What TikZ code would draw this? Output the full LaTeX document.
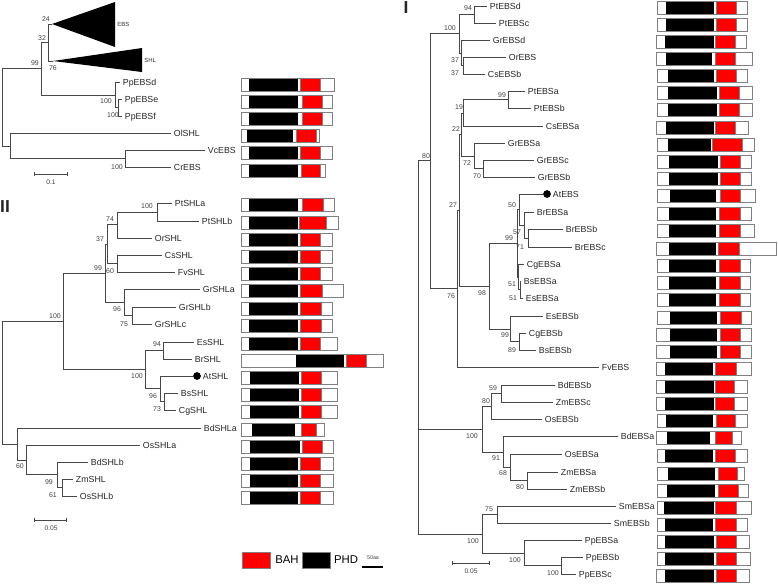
\documentclass[tikz,border=0pt]{standalone}
\usepackage{fontspec}
\setmainfont{Liberation Sans}
\usetikzlibrary{arrows.meta,positioning}
\definecolor{BAHred}{RGB}{255,0,0}
\definecolor{PHDblack}{RGB}{0,0,0}
\colorlet{BranchGray}{black!72}
\colorlet{BoxGray}{black!50}

% domain bar: y, left, PHD from, PHD to, BAH from, BAH to, right
\newcommand{\dombar}[7]{%
  \fill[white] (#2,{#1-6.5}) rectangle (#7,{#1+6.5});
  \fill[PHDblack] (#3,{#1-6.5}) rectangle (#4,{#1+6.5});
  \filldraw[fill=BAHred,draw=BoxGray,line width=0.4pt] (#5,{#1-6.5}) rectangle (#6,{#1+6.5});
  \draw[BoxGray,line width=0.6pt] (#2,{#1-6.5}) rectangle (#7,{#1+6.5});}

\begin{document}
\begin{tikzpicture}[x=0.75pt,y=-0.75pt,
    branch/.style={draw=BranchGray,line width=0.6pt},
    leaf/.style={anchor=west,inner sep=2pt,text depth=0pt,font=\fontsize{6.6}{7}\selectfont,text=black!85},
    boot/.style={inner sep=0pt,font=\fontsize{5.2}{6}\selectfont,text=black!75},
    trilab/.style={anchor=west,inner sep=0pt,font=\fontsize{4.5}{5}\selectfont,text=black!80},
    atdot/.style={circle,fill=black,inner sep=0pt,minimum size=5.8pt},
    scalebar/.style={draw=BranchGray,line width=0.6pt,{Bar[width=3pt]}-{Bar[width=3pt]}},
    scalelab/.style={inner sep=0pt,font=\fontsize{5}{6}\selectfont,text=black!75},
    part/.style={inner sep=0pt,font=\fontsize{13}{15}\selectfont\bfseries,text=black!85},
    legkey/.style={draw=BoxGray,line width=0.6pt,minimum width=21pt,minimum height=12pt,inner sep=0pt},
    legtxt/.style={inner sep=0pt,font=\fontsize{8.5}{10}\selectfont}
  ]
  \useasboundingbox (0,0) rectangle (778,586);

  %% overview tree (collapsed)
  \coordinate (cEBS) at (52,24);
  \coordinate (cSHL) at (53,61);
  \fill[black] (cEBS) -- (115,2) -- (115,47) -- cycle;
  \fill[black] (cSHL) -- (142,48) -- (142,72) -- cycle;
  \node[trilab] (lblEBS) at (117,24) {EBS};
  \node[trilab] (lblSHL) at (144,60) {SHL};

  \coordinate (tES) at (48,42.5);
  \coordinate (t99) at (41,68);
  \coordinate (tRoot) at (2,107);
  \coordinate (tPp) at (115,95);
  \coordinate (tPpef) at (118,107.5);
  \coordinate (tOl) at (10,146);
  \coordinate (tVc) at (125,158.5);

  \node[leaf] (PpEBSd) at (120,82) {PpEBSd};
  \node[leaf] (PpEBSe) at (122,99) {PpEBSe};
  \node[leaf] (PpEBSf) at (122,116) {PpEBSf};
  \node[leaf] (OlSHL) at (171,133) {OlSHL};
  \node[leaf] (VcEBS) at (205,150) {VcEBS};
  \node[leaf] (CrEBS) at (171,167) {CrEBS};

  \foreach \p/\a/\b in {tES/cEBS/cSHL, t99/tES/tPp, tRoot/t99/tOl,
      tPp/PpEBSd.west/tPpef, tPpef/PpEBSe.west/PpEBSf.west,
      tOl/OlSHL.west/tVc, tVc/VcEBS.west/CrEBS.west}
    \draw[branch] (\p) |- (\a) (\p) |- (\b);

  \foreach \x/\y/\v in {46/19/24, 42/38/32, 35/63/99, 53/68/76,
      106/101/100, 113/115/100, 117/167/100}
    \node[boot] (bs\x-\y) at (\x,\y) {\v};

  \draw[scalebar] (34,174) -- (68,174);
  \node[scalelab] (sc1) at (51,182) {0.1};

  \dombar{84.5}{241}{249}{298}{300}{320}{334}
  \dombar{101.5}{241}{249}{298}{302}{322}{332}
  \dombar{118.5}{241}{249}{298}{302}{322}{332}
  \dombar{136}{241}{247}{293}{296}{316}{319}
  \dombar{153}{241}{249}{298}{300}{320}{332}
  \dombar{170.5}{241}{249}{298}{301}{320}{325}

  %% part II : SHL
  \node[part] (partII) at (5,207) {II};

  \coordinate (sRoot) at (2,382.5);
  \coordinate (s100) at (63,321);
  \coordinate (s99) at (105,273);
  \coordinate (s37) at (107,244);
  \coordinate (s74) at (117,224.5);
  \coordinate (sPt) at (157,212);
  \coordinate (s60) at (117,263.5);
  \coordinate (s96) at (124,302);
  \coordinate (s75) at (132,315.5);
  \coordinate (sEs) at (145,369);
  \coordinate (s94) at (163,350.5);
  \coordinate (sAt) at (160,388.5);
  \coordinate (s73) at (164,401.5);
  \coordinate (s17) at (17,444);
  \coordinate (s60b) at (26,460);
  \coordinate (s99b) at (57,474.5);
  \coordinate (s61) at (62,487.5);

  \node[leaf] (PtSHLa) at (172,203) {PtSHLa};
  \node[leaf] (PtSHLb) at (199,221) {PtSHLb};
  \node[leaf] (OrSHL) at (152,238) {OrSHL};
  \node[leaf] (CsSHL) at (162,255) {CsSHL};
  \node[leaf] (FvSHL) at (175,272) {FvSHL};
  \node[leaf] (GrSHLa) at (200,289) {GrSHLa};
  \node[leaf] (GrSHLb) at (176,307) {GrSHLb};
  \node[leaf] (GrSHLc) at (152,324) {GrSHLc};
  \node[leaf] (EsSHL) at (194,342) {EsSHL};
  \node[leaf] (BrSHL) at (192,359) {BrSHL};
  \node[atdot] (dotAtSHL) at (197,376) {};
  \node[leaf] (AtSHL) at (200,376) {AtSHL};
  \node[leaf] (BsSHL) at (178,393) {BsSHL};
  \node[leaf] (CgSHL) at (176,410) {CgSHL};
  \node[leaf] (BdSHLa) at (201,428) {BdSHLa};
  \node[leaf] (OsSHLa) at (140,445) {OsSHLa};
  \node[leaf] (BdSHLb) at (88,462) {BdSHLb};
  \node[leaf] (ZmSHL) at (73,479) {ZmSHL};
  \node[leaf] (OsSHLb) at (77,496) {OsSHLb};

  \foreach \p/\a/\b in {sRoot/s100/s17, s100/s99/sEs, s99/s37/s96,
      s37/s74/s60, s74/sPt/OrSHL.west, sPt/PtSHLa.west/PtSHLb.west,
      s60/CsSHL.west/FvSHL.west, s96/GrSHLa.west/s75,
      s75/GrSHLb.west/GrSHLc.west, sEs/s94/sAt,
      s94/EsSHL.west/BrSHL.west, sAt/dotAtSHL.west/s73,
      s73/BsSHL.west/CgSHL.west, s17/BdSHLa.west/s60b,
      s60b/OsSHLa.west/s99b, s99b/BdSHLb.west/s61,
      s61/ZmSHL.west/OsSHLb.west}
    \draw[branch] (\p) |- (\a) (\p) |- (\b);

  \foreach \x/\y/\v in {147/206/100, 110/219/74, 100/239/37, 98/268/99,
      110/271/60, 117/309/96, 124/324/75, 55/316/100, 157/344/94,
      137/376/100, 153/396/96, 157/409/73, 20/466/60, 49/482/99, 53/495/61}
    \node[boot] (bs\x-\y) at (\x,\y) {\v};

  \draw[scalebar] (34,520) -- (67,520);
  \node[scalelab] (sc2) at (51,528) {0.05};

  \dombar{205}{241}{249}{298}{302}{323}{334}
  \dombar{223}{241}{249}{298}{299}{326}{338}
  \dombar{240}{241}{249}{298}{300}{320}{332}
  \dombar{257}{241}{249}{298}{300}{320}{332}
  \dombar{274}{241}{249}{298}{300}{320}{332}
  \dombar{291}{241}{249}{298}{300}{322}{343}
  \dombar{309}{241}{249}{298}{300}{321}{332}
  \dombar{326}{241}{249}{298}{300}{321}{332}
  \dombar{344}{241}{249}{298}{300}{320}{337}
  \dombar{361}{241}{296}{344}{346}{366}{383}
  \dombar{378}{241}{250}{299}{301}{321}{337}
  \dombar{395}{241}{250}{299}{301}{321}{337}
  \dombar{412}{241}{250}{299}{301}{321}{337}
  \dombar{430}{241}{252}{295}{301}{316}{324}
  \dombar{447}{241}{250}{300}{302}{322}{333}
  \dombar{464}{241}{250}{298}{300}{320}{333}
  \dombar{481}{241}{250}{298}{300}{320}{333}
  \dombar{498}{241}{250}{298}{300}{320}{333}

  % legend
  \node[legkey,fill=BAHred] (keyBAH) at (256,560) {};
  \node[legtxt] (txtBAH) at (287,560) {BAH};
  \node[legkey,fill=PHDblack] (keyPHD) at (316,560) {};
  \node[legtxt] (txtPHD) at (346,560) {PHD};
  \node[scalelab,font=\fontsize{4}{5}\selectfont] (txt50aa) at (373,558) {50aa};
  \draw[line width=0.8pt] (362,567) -- (383,567);

  %% part I : EBS
  \node[part] (partI) at (406,8) {I};

  \coordinate (eRoot) at (418,347);
  \coordinate (e80) at (430,160.5);
  \coordinate (e100) at (459,33);
  \coordinate (ePt) at (474,14.5);
  \coordinate (e37a) at (461,53);
  \coordinate (e37b) at (463,65.5);
  \coordinate (e76) at (457,288.5);
  \coordinate (e27) at (459,210);
  \coordinate (e22) at (461,134.5);
  \coordinate (e19) at (463,113);
  \coordinate (ePta) at (508,99.5);
  \coordinate (e72) at (474,156);
  \coordinate (e70) at (483,168.5);
  \coordinate (e98) at (489,286);
  \coordinate (e99a) at (517,243);
  \coordinate (e50) at (519,209.5);
  \coordinate (e57) at (524,225);
  \coordinate (e71) at (528,238);
  \coordinate (e51a) at (518,277);
  \coordinate (e51b) at (520,289.5);
  \coordinate (e99b) at (510,329);
  \coordinate (e89) at (519,341.5);
  \coordinate (eMono) at (482,429);
  \coordinate (e80b) at (491,406);
  \coordinate (e59) at (501,393.5);
  \coordinate (e91) at (503,452);
  \coordinate (e68) at (510,467);
  \coordinate (e80c) at (527,480.5);
  \coordinate (eSmPp) at (482,534);
  \coordinate (e75) at (497,514.5);
  \coordinate (ePp) at (524,553);
  \coordinate (ePpbc) at (561,565.5);

  \node[leaf] (PtEBSd) at (487,6) {PtEBSd};
  \node[leaf] (PtEBSc) at (496,23) {PtEBSc};
  \node[leaf] (GrEBSd) at (490,40) {GrEBSd};
  \node[leaf] (OrEBS) at (506,57) {OrEBS};
  \node[leaf] (CsEBSb) at (485,74) {CsEBSb};
  \node[leaf] (PtEBSa) at (525,91) {PtEBSa};
  \node[leaf] (PtEBSb) at (531,108) {PtEBSb};
  \node[leaf] (CsEBSa) at (543,126) {CsEBSa};
  \node[leaf] (GrEBSa) at (505,143) {GrEBSa};
  \node[leaf] (GrEBSc) at (534,160) {GrEBSc};
  \node[leaf] (GrEBSb) at (535,177) {GrEBSb};
  \node[atdot] (dotAtEBS) at (547,194) {};
  \node[leaf] (AtEBS) at (550,194) {AtEBS};
  \node[leaf] (BrEBSa) at (534,212) {BrEBSa};
  \node[leaf] (BrEBSb) at (563,229) {BrEBSb};
  \node[leaf] (BrEBSc) at (572,247) {BrEBSc};
  \node[leaf] (CgEBSa) at (524,264) {CgEBSa};
  \node[leaf] (BsEBSa) at (521,281) {BsEBSa};
  \node[leaf] (EsEBSa) at (523,298) {EsEBSa};
  \node[leaf] (EsEBSb) at (543,316) {EsEBSb};
  \node[leaf] (CgEBSb) at (526,333) {CgEBSb};
  \node[leaf] (BsEBSb) at (536,350) {BsEBSb};
  \node[leaf] (FvEBS) at (599,367) {FvEBS};
  \node[leaf] (BdEBSb) at (555,385) {BdEBSb};
  \node[leaf] (ZmEBSc) at (553,402) {ZmEBSc};
  \node[leaf] (OsEBSb) at (542,419) {OsEBSb};
  \node[leaf] (BdEBSa) at (618,436) {BdEBSa};
  \node[leaf] (OsEBSa) at (562,454) {OsEBSa};
  \node[leaf] (ZmEBSa) at (558,472) {ZmEBSa};
  \node[leaf] (ZmEBSb) at (567,489) {ZmEBSb};
  \node[leaf] (SmEBSa) at (616,506) {SmEBSa};
  \node[leaf] (SmEBSb) at (611,523) {SmEBSb};
  \node[leaf] (PpEBSa) at (582,540) {PpEBSa};
  \node[leaf] (PpEBSb) at (583,557) {PpEBSb};
  \node[leaf] (PpEBSc) at (576,574) {PpEBSc};

  \draw[branch] (eRoot) |- (e80) (eRoot) |- (eMono) (eRoot) |- (eSmPp);
  \foreach \p/\a/\b in {e80/e100/e76, e100/ePt/e37a,
      ePt/PtEBSd.west/PtEBSc.west, e37a/GrEBSd.west/e37b,
      e37b/OrEBS.west/CsEBSb.west, e76/e27/FvEBS.west, e27/e22/e98,
      e22/e19/e72, e19/ePta/CsEBSa.west, ePta/PtEBSa.west/PtEBSb.west,
      e72/GrEBSa.west/e70, e70/GrEBSc.west/GrEBSb.west,
      e98/e99a/e99b, e99a/e50/e51a, e50/dotAtEBS.west/e57,
      e57/BrEBSa.west/e71, e71/BrEBSb.west/BrEBSc.west,
      e51a/CgEBSa.west/e51b, e51b/BsEBSa.west/EsEBSa.west,
      e99b/EsEBSb.west/e89, e89/CgEBSb.west/BsEBSb.west,
      eMono/e80b/e91, e80b/e59/OsEBSb.west, e59/BdEBSb.west/ZmEBSc.west,
      e91/BdEBSa.west/e68, e68/OsEBSa.west/e80c,
      e80c/ZmEBSa.west/ZmEBSb.west, eSmPp/e75/ePp,
      e75/SmEBSa.west/SmEBSb.west, ePp/PpEBSa.west/ePpbc,
      ePpbc/PpEBSb.west/PpEBSc.west}
    \draw[branch] (\p) |- (\a) (\p) |- (\b);

  \foreach \x/\y/\v in {468/8/94, 450/28/100, 455/60/37, 455/73/37,
      502/95/99, 459/107/19, 456/129/22, 426/156/80, 467/163/72,
      477/176/70, 453/205/27, 512/205/50, 517/232/57, 509/238/99,
      520/247/71, 512/284/51, 513/298/51, 451/296/76, 482/293/98,
      505/335/99, 512/350/89, 493/388/59, 486/401/80, 472/436/100,
      496/458/91, 503/473/68, 520/487/80, 489/509/75, 473/541/100,
      515/560/100, 553/573/100}
    \node[boot] (bs\x-\y) at (\x,\y) {\v};

  \draw[scalebar] (452,563) -- (490,563);
  \node[scalelab] (sc3) at (471,571) {0.05};

  \dombar{8}{657}{666}{714}{716}{736}{747}
  \dombar{25}{657}{666}{714}{716}{736}{747}
  \dombar{42}{656}{665}{714}{715}{735}{746}
  \dombar{59}{656}{666}{712}{715}{735}{752}
  \dombar{76}{657}{668}{714}{716}{736}{747}
  \dombar{93}{657}{668}{717}{719}{739}{752}
  \dombar{110}{657}{668}{717}{719}{739}{752}
  \dombar{128}{656}{666}{714}{715}{735}{748}
  \dombar{145}{657}{668}{711}{712}{742}{754}
  \dombar{162}{657}{669}{718}{720}{740}{751}
  \dombar{179}{657}{669}{718}{720}{740}{751}
  \dombar{196}{657}{670}{716}{720}{740}{755}
  \dombar{214}{657}{669}{716}{719}{740}{751}
  \dombar{231}{657}{669}{716}{719}{740}{754}
  \dombar{249}{656}{669}{716}{718}{739}{776}
  \dombar{266}{657}{669}{716}{719}{740}{750}
  \dombar{283}{657}{669}{716}{719}{740}{750}
  \dombar{300}{657}{669}{716}{719}{740}{750}
  \dombar{318}{657}{670}{717}{720}{741}{751}
  \dombar{335}{656}{670}{717}{720}{740}{751}
  \dombar{352}{656}{670}{717}{720}{740}{751}
  \dombar{369}{656}{665}{713}{715}{736}{751}
  \dombar{387}{656}{665}{714}{715}{734}{747}
  \dombar{404}{656}{665}{714}{715}{734}{747}
  \dombar{421}{657}{666}{713}{716}{735}{747}
  \dombar{438}{656}{667}{710}{715}{732}{741}
  \dombar{456}{657}{665}{713}{715}{735}{747}
  \dombar{474}{657}{668}{715}{718}{737}{744}
  \dombar{491}{657}{667}{715}{718}{738}{748}
  \dombar{508}{657}{664}{714}{715}{736}{751}
  \dombar{525}{657}{665}{713}{715}{736}{747}
  \dombar{542}{657}{665}{714}{716}{736}{749}
  \dombar{559}{657}{665}{714}{716}{736}{750}
  \dombar{576}{656}{665}{714}{716}{736}{749}
\end{tikzpicture}
\end{document}
